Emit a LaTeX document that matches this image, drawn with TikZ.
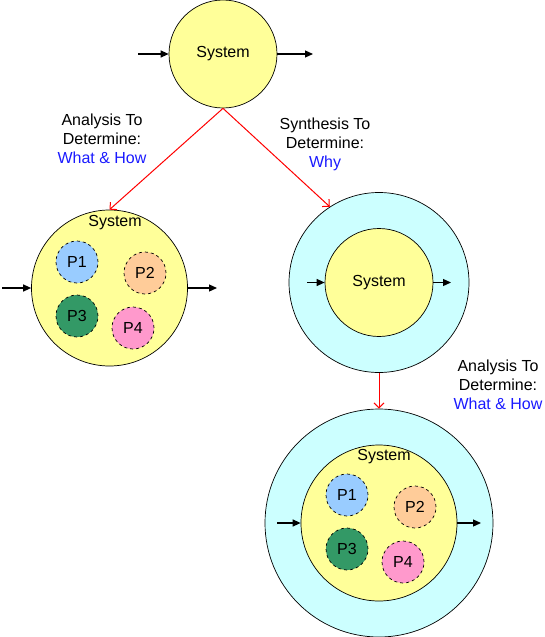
\documentclass[tikz,border=0pt]{standalone}
\usepackage{fontspec}
\setmainfont{Liberation Sans}
\usetikzlibrary{arrows.meta}
\definecolor{sysyellow}{HTML}{FFFF99}
\definecolor{envcyan}{HTML}{CCFFFF}
\definecolor{pblue}{HTML}{99CCFF}
\definecolor{porange}{HTML}{FFCC99}
\definecolor{pgreen}{HTML}{339966}
\definecolor{ppink}{HTML}{FF99CC}
\definecolor{lblue}{HTML}{1A1AFF}
\tikzset{
  sys/.style={circle,draw=black,line width=0.7pt,fill=sysyellow,inner sep=0pt},
  env/.style={circle,draw=black,line width=0.7pt,fill=envcyan,inner sep=0pt},
  part/.style={circle,draw=black,dashed,line width=0.7pt,minimum size=42pt,inner sep=0pt},
  flow/.style={-{Triangle[length=8pt,width=7pt]},line width=1.2pt,black},
  redarr/.style={-{Straight Barb[length=5pt,width=10pt]},red,line width=1pt},
  txt/.style={font=\fontsize{16}{19}\selectfont,align=center,inner sep=0pt},
}
\begin{document}
\begin{tikzpicture}[x=1pt,y=-1pt]
\useasboundingbox (0,0) rectangle (545,637);
% top system
\node[sys,minimum size=108pt,txt] (top) at (223,54) {System};
\coordinate (tin) at (138,54);
\coordinate (tout) at (313,54);
\draw[flow] (tin) -- (top.west);
\draw[flow] (top.east) -- (tout);

% left analysed system
\node[sys,minimum size=156pt] (left) at (109.5,288) {};
\node[txt] (lsys) at (115,223) {System};
\node[part,fill=pblue,txt] (lp1) at (77,262) {P1};
\node[part,fill=porange,txt] (lp2) at (145,273) {P2};
\node[part,fill=pgreen,txt] (lp3) at (77,316) {P3};
\node[part,fill=ppink,txt] (lp4) at (133,328) {P4};
\coordinate (lin) at (2,288);
\coordinate (lout) at (217,288);
\draw[flow] (lin) -- (left.west);
\draw[flow] (left.east) -- (lout);

% right synthesis
\node[env,minimum size=180pt] (right) at (379,282.5) {};
\node[sys,minimum size=108pt,txt] (rsys) at (379,282.5) {System};
\coordinate (rin) at (307,282.5);
\coordinate (rout) at (451,282.5);
\draw[flow] (rin) -- (rsys.west);
\draw[flow] (rsys.east) -- (rout);

% bottom right
\node[env,minimum size=228pt] (bot) at (379,523) {};
\node[sys,minimum size=156pt] (bsys) at (379,523) {};
\node[txt] (bsyslab) at (384,457) {System};
\node[part,fill=pblue,txt] (bp1) at (347,495) {P1};
\node[part,fill=porange,txt] (bp2) at (415,507) {P2};
\node[part,fill=pgreen,txt] (bp3) at (347,549) {P3};
\node[part,fill=ppink,txt] (bp4) at (403,562) {P4};
\coordinate (bin) at (277,523);
\coordinate (bout) at (481,523);
\draw[flow] (bin) -- (bsys.west);
\draw[flow] (bsys.east) -- (bout);

% red arrows
\draw[redarr] (top.south) -- (left.north);
\draw[redarr] (top.south) -- (right.123);
\draw[redarr] (right.south) -- (bot.north);

% labels
\node[txt] (l1) at (102,139) {Analysis To\\Determine:\\\textcolor{lblue}{What \& How}};
\node[txt] (l2) at (325,144) {Synthesis To\\Determine:\\\textcolor{lblue}{Why}};
\node[txt] (l3) at (498,385) {Analysis To\\Determine:\\\textcolor{lblue}{What \& How}};
\end{tikzpicture}
\end{document}
